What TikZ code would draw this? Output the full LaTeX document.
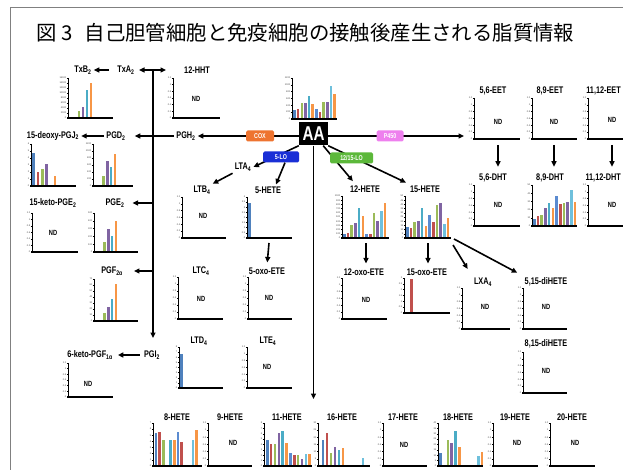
\documentclass[tikz,border=0pt]{standalone}
\usepackage{fontspec}
\setmainfont{Liberation Sans}
\newfontfamily\lab[FakeStretch=0.76]{Liberation Sans}
\newfontfamily\cjk{Noto Sans CJK JP}
\usetikzlibrary{arrows.meta,calc}
\definecolor{b1}{HTML}{4F81BD}
\definecolor{b2}{HTML}{C0504D}
\definecolor{b3}{HTML}{9BBB59}
\definecolor{b4}{HTML}{8064A2}
\definecolor{b5}{HTML}{4BACC6}
\definecolor{b6}{HTML}{F79646}
\definecolor{b7}{HTML}{5B8BD0}
\definecolor{b8}{HTML}{C0504D}
\definecolor{b9}{HTML}{9BBB59}
\definecolor{b10}{HTML}{8064A2}
\definecolor{b11}{HTML}{6FC0DC}
\definecolor{b12}{HTML}{F79646}
\definecolor{coxc}{HTML}{EE7430}
\definecolor{lo5c}{HTML}{1A2FD6}
\definecolor{lo12c}{HTML}{5CB83A}
\definecolor{p450c}{HTML}{EE80EE}
\tikzset{
 lbl/.style={font=\lab\bfseries\fontsize{9.6}{10}\selectfont, inner sep=2pt},
 arr/.style={line width=1.6pt, -{Triangle[length=5.5pt,width=5pt]}},
 ln/.style={line width=1.6pt},
 yax/.style={line width=0.5pt},
 xax/.style={line width=1.6pt},
 tick/.style={font=\fontsize{2.4}{2.5}\selectfont, anchor=east, inner sep=0.3pt, text=black!70},
 nd/.style={font=\lab\bfseries\fontsize{7.5}{8}\selectfont, inner sep=0pt},
 enz/.style={font=\lab\bfseries\fontsize{7}{8}\selectfont, text=white, minimum height=11pt, rounded corners=1.5pt, inner sep=1pt},
}
\newcommand\Chart[7]{%
  \draw[yax] (#2,#3) -- (#2,#4);
  \edef\tklist{#6}%
  \foreach \tk [count=\i] in \tklist {%
    \pgfmathsetmacro\yy{#3+(\i-1)*(#4-#3)/(#7-1)}%
    \draw[yax] (#2-1.2,\yy) -- (#2,\yy);
    \node[tick] (#1t\i) at (#2-1.3,\yy) {\tk};
  }
  \draw[xax] (#2-0.6,#4) -- (#5,#4);
}
\newcommand\ND[3]{\node[nd] (#1) at (#2,#3) {ND};}
\newcommand\Bars[4]{%
  \foreach \s/\tp in {#4}{\fill[b\s] ({#1+(\s-1)*#3},#2) rectangle ({#1+(\s-1)*#3+2.6},\tp);}
}
\def\NDT{1.2,1,0.8,0.6,0.4,0.2,0}
\begin{document}
\begin{tikzpicture}[x=1pt,y=-1pt]
\useasboundingbox (0,0) rectangle (623,470);
\clip (0,0) rectangle (623,470);
\fill[white] (0,0) rectangle (623,470);
% frame
\draw[gray, line width=0.8pt] (10,471) -- (10,7) -- (624,7);
% title
\node[anchor=west, font=\cjk\fontsize{20.4}{21}\selectfont, inner sep=0pt] (title) at (36,33) {図 3\hspace{0.6em}自己胆管細胞と免疫細胞の接触後産生される脂質情報};

% ---------------- labels
\node[lbl] (txb) at (83,70) {TxB\textsubscript{2}};
\node[lbl] (txa) at (126,70) {TxA\textsubscript{2}};
\node[lbl] (hht) at (197,70) {12-HHT};
\node[lbl] (pgh) at (186,136) {PGH\textsubscript{2}};
\node[lbl] (deoxy) at (53,136) {15-deoxy-PGJ\textsubscript{2}};
\node[lbl] (pgd) at (116,136) {PGD\textsubscript{2}};
\node[lbl] (keto) at (53,203) {15-keto-PGE\textsubscript{2}};
\node[lbl] (pge) at (115,203) {PGE\textsubscript{2}};
\node[lbl] (pgf) at (112,271) {PGF\textsubscript{2α}};
\node[lbl] (pgi) at (152,355) {PGI\textsubscript{2}};
\node[lbl] (keto6) at (90,355) {6-keto-PGF\textsubscript{1α}};
\node[lbl] (lta) at (243,167) {LTA\textsubscript{4}};
\node[lbl] (ltb) at (202,190) {LTB\textsubscript{4}};
\node[lbl] (h5) at (268,190) {5-HETE};
\node[lbl] (ltc) at (201,271) {LTC\textsubscript{4}};
\node[lbl] (oxo5) at (267,271) {5-oxo-ETE};
\node[lbl] (ltd) at (199,341) {LTD\textsubscript{4}};
\node[lbl] (lte) at (268,341) {LTE\textsubscript{4}};
\node[lbl] (h12) at (365,189) {12-HETE};
\node[lbl] (h15) at (425,189) {15-HETE};
\node[lbl] (oxo12) at (364,272) {12-oxo-ETE};
\node[lbl] (oxo15) at (427,272) {15-oxo-ETE};
\node[lbl] (lxa) at (483,282) {LXA\textsubscript{4}};
\node[lbl] (di515) at (546,282) {5,15-diHETE};
\node[lbl] (di815) at (546,344) {8,15-diHETE};
\node[lbl] (eet56) at (493,91) {5,6-EET};
\node[lbl] (eet89) at (550,91) {8,9-EET};
\node[lbl, anchor=east] (eet1112) at (623,91) {11,12-EET};
\node[lbl] (dht56) at (493,178) {5,6-DHT};
\node[lbl] (dht89) at (550,178) {8,9-DHT};
\node[lbl, anchor=east] (dht1112) at (623,178) {11,12-DHT};
\node[lbl] (h8) at (177,417) {8-HETE};
\node[lbl] (h9) at (230,417) {9-HETE};
\node[lbl] (h11) at (287,417) {11-HETE};
\node[lbl] (h16) at (342,417) {16-HETE};
\node[lbl] (h17) at (403,417) {17-HETE};
\node[lbl] (h18) at (458,417) {18-HETE};
\node[lbl] (h19) at (515,417) {19-HETE};
\node[lbl] (h20) at (572,417) {20-HETE};

% AA
\node[fill=black, text=white, minimum width=29pt, minimum height=23pt, inner sep=0pt,
      font=\lab\bfseries\fontsize{20}{20}\selectfont] (AA) at (313.5,134) {AA};

% ---------------- coordinates
\coordinate (da1) at (139,70);
\coordinate (da2) at (166,70);
\coordinate (vtop) at (153,70);
\coordinate (vbot) at (153,338);
\coordinate (vdown) at (313.5,399);
\coordinate (eet) at (464,136);
\coordinate (c5h) at (269,243);
\coordinate (c12) at (366,243);
\coordinate (c15) at (428,243);
\coordinate (c15a) at (453,245);
\coordinate (c15b) at (454,239);
\coordinate (c56) at (498,145);
\coordinate (c89) at (554,145);
\coordinate (c1112) at (612,145);

% ---------------- connectors
\draw[ln, {Triangle[length=5.5pt,width=5pt]}-{Triangle[length=5.5pt,width=5pt]}] (da1) -- (da2);
\draw[arr] (vtop) -- (vbot);
\draw[arr, shorten <=6pt] (txa) -- (txb);
\draw[arr] (AA.west |- pgh) -- (pgh.east);
\draw[arr, shorten >=7pt] (pgh.west) -- (pgd.east);
\draw[arr] (pgd) -- (deoxy);
\draw[arr, shorten >=6pt] (vtop |- pge) -- (pge.east);
\draw[arr, shorten >=9pt] (vtop |- pgf) -- (pgf.east);
\draw[arr, shorten <=2pt, shorten >=3pt] (pgi) -- (keto6);
\draw[arr] (AA.south west) -- (lta.east);
\draw[arr] (lta.south west) -- (ltb.north east);
\draw[arr] (AA.south) -- (vdown);
\draw[arr] (AA.east |- eet) -- (eet);
\draw[arr, shorten >=3pt] ([xshift=-5pt]AA.south east) -- ([xshift=7pt]h12.north west);
\draw[arr, shorten >=2pt] (AA.south east) -- (h15.north west);
\draw[arr, shorten >=3pt] (c5h) -- (oxo5.north);
\draw[arr, shorten >=3pt] (c12) -- (c12 |- oxo12.north);
\draw[arr, shorten >=3pt] (c15) -- (c15 |- oxo15.north);
\draw[arr, shorten >=8pt] (c15a) -- (lxa.north west);
\draw[arr, shorten >=6pt] (c15b) -- (di515.north west);
\draw[arr, shorten >=5pt] (c56) -- (c56 |- dht56.north);
\draw[arr, shorten >=5pt] (c89) -- (c89 |- dht89.north);
\draw[arr, shorten >=5pt] (c1112) -- (c1112 |- dht1112.north);

% enzyme boxes
\node[enz, fill=coxc, minimum width=28pt] (cox) at (260,136) {COX};
\node[enz, fill=lo5c, minimum width=36pt] (lo5) at (281,157) {5-LO};
\node[enz, fill=lo12c, minimum width=43pt] (lo12) at (351.5,158) {12/15-LO};
\node[enz, fill=p450c, minimum width=27pt] (p450) at (390,136) {P450};
\draw[arr] ([xshift=4pt]lo5.south) -- ([xshift=8pt]h5.north);

% ---------------- charts with data
\Bars{293.2}{119}{3.65}{1/110,2/109,3/103,4/103,5/96,6/104,7/109,8/112,9/102,10/102,11/86,12/94}
\Chart{aa}{292}{78}{119}{337}{1200,1000,800,600,400,200,0}{7}

\Bars{69.5}{118}{4}{3/111,4/107,5/90,6/83}
\Chart{txbc}{68}{78}{118}{113}{16000,14000,12000,10000,8000,6000,4000,2000,0}{9}

\Bars{32.3}{186}{4.3}{1/153,2/172,3/169,4/164,6/176}
\Chart{deoxyc}{31}{144}{186}{76}{6,5,4,3,2,1,0}{7}

\Bars{94.5}{186}{3.8}{3/176,4/161,5/167,6/154}
\Chart{pgdc}{93}{144}{186}{133}{1200,1000,800,600,400,200,0}{7}

\Bars{95.5}{252}{3.8}{3/242,4/229,5/236,6/221}
\Chart{pgec}{94}{213}{252}{138}{500,400,300,200,100,0}{6}

\Bars{95.5}{321}{3.8}{3/313,4/307,5/299,6/284}
\Chart{pgfc}{94}{279}{321}{138}{70,60,50,40,30,20,10,0}{8}

\Bars{248}{238}{3.7}{1/203}
\Chart{h5c}{247}{197}{238}{292}{4,3.5,3,2.5,2,1.5,1,0.5,0}{9}

\Bars{180}{388}{3.7}{1/354}
\Chart{ltdc}{179}{347}{388}{223}{8,7,6,5,4,3,2,1,0}{9}

\Bars{343}{238}{3.7}{1/234,2/233,3/225,4/223,5/208,6/216,7/234,8/234,9/213,10/221,11/211,12/203}
\Chart{h12c}{342}{196}{238}{389}{1000,900,800,700,600,500,400,300,200,100,0}{11}

\Bars{406}{238}{3.7}{1/227,2/228,3/222,4/221,5/208,6/226,7/215,8/222,9/205,10/203,11/224,12/218}
\Chart{h15c}{405}{196}{238}{451}{50,45,40,35,30,25,20,15,10,5,0}{11}

\Bars{533}{226}{3.7}{1/219,2/216,3/215,4/208,5/203,6/208,7/196,8/204,9/203,10/202,11/190,12/202}
\Chart{dht89c}{532}{185}{226}{577}{50,40,30,20,10,0}{6}

\Bars{406.5}{313}{3.7}{2/279}
\Chart{oxo15c}{404}{278}{313}{450}{3,2.5,2,1.5,1,0.5,0}{7}

\Bars{154.5}{466}{3.7}{1/433,2/432,3/440,5/440,6/440,7/432,8/442,11/440,12/430}
\Chart{h8c}{153}{423}{466}{202}{7,6,5,4,3,2,1,0}{8}

\Bars{266}{466}{3.85}{1/440,2/444,3/444,4/433,5/431,6/443,7/453,8/455,9/455,10/459,11/454,12/454}
\Chart{h11c}{264}{423}{466}{312}{8,7,6,5,4,3,2,1,0}{9}

\Bars{321.5}{466}{4}{1/440,2/433,3/453,4/447,5/450,6/448,11/458}
\Chart{h16c}{318}{423}{466}{370}{30,25,20,15,10,5,0}{7}

\Bars{439}{466}{3.8}{1/453,3/440,4/443,5/431,6/447,11/456,12/452}
\Chart{h18c}{438}{423}{466}{483}{40,35,30,25,20,15,10,5,0}{9}

% ---------------- ND charts
\Chart{hhtc}{173}{78}{118}{220}{\NDT}{7}            \ND{hhtnd}{196}{99}
\Chart{ketoc}{32}{213}{252}{78}{\NDT}{7}            \ND{ketond}{53}{233}
\Chart{keto6c}{68}{363}{397}{113}{\NDT}{7}          \ND{keto6nd}{88}{384}
\Chart{ltbc}{182}{197}{238}{226}{\NDT}{7}           \ND{ltbnd}{203}{216}
\Chart{ltcc}{178}{277}{319}{223}{\NDT}{7}           \ND{ltcnd}{201}{299}
\Chart{oxo5c}{248}{277}{319}{292}{\NDT}{7}          \ND{oxo5nd}{269}{298}
\Chart{ltec}{247}{347}{388}{292}{\NDT}{7}           \ND{ltend}{267}{367}
\Chart{oxo12c}{342}{278}{319}{387}{\NDT}{7}         \ND{oxo12nd}{366}{300}
\Chart{lxac}{462}{288}{329}{510}{\NDT}{7}           \ND{lxand}{485}{307}
\Chart{di515c}{523}{288}{329}{567}{\NDT}{7}         \ND{di515nd}{546}{307}
\Chart{di815c}{523}{352}{393}{567}{\NDT}{7}         \ND{di815nd}{546}{371}
\Chart{eet56c}{474}{98}{139}{520}{\NDT}{7}          \ND{eet56nd}{498}{122}
\Chart{eet89c}{532}{98}{139}{577}{\NDT}{7}          \ND{eet89nd}{554}{122}
\Chart{eet1112c}{588}{98}{139}{640}{\NDT}{7}        \ND{eet1112nd}{612}{120}
\Chart{dht56c}{474}{185}{226}{520}{\NDT}{7}         \ND{dht56nd}{498}{205}
\Chart{dht1112c}{588}{185}{226}{640}{\NDT}{7}       \ND{dht1112nd}{612}{205}
\Chart{h9c}{208}{423}{466}{252}{\NDT}{7}            \ND{h9nd}{233}{443}
\Chart{h17c}{383}{423}{466}{427}{\NDT}{7}           \ND{h17nd}{404}{445}
\Chart{h19c}{493}{423}{466}{538}{\NDT}{7}           \ND{h19nd}{517}{443}
\Chart{h20c}{550}{423}{466}{595}{\NDT}{7}           \ND{h20nd}{575}{443}
\end{tikzpicture}
\end{document}
